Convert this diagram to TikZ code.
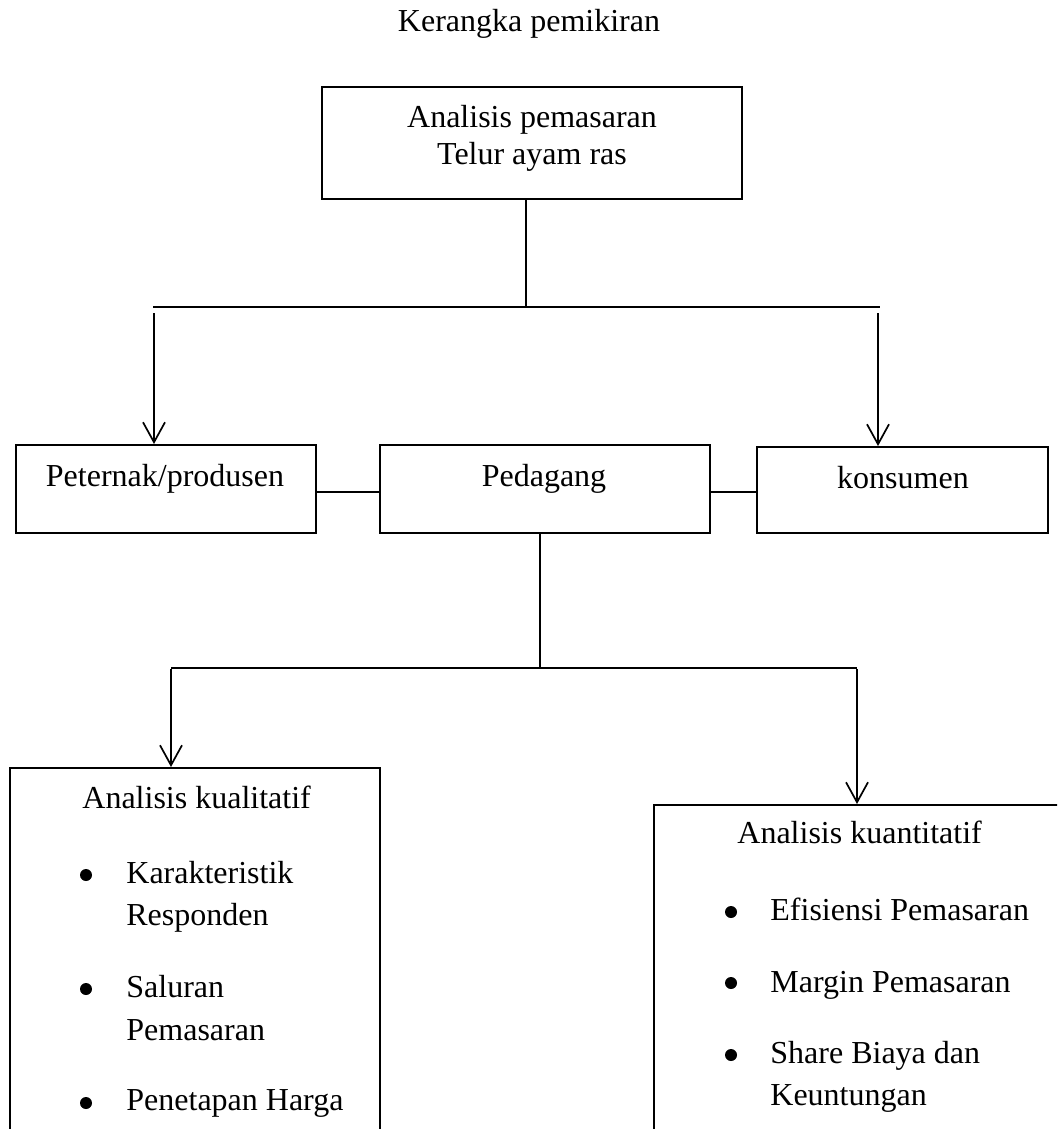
\documentclass[tikz,border=0pt]{standalone}
\usepackage{fontspec}
\setmainfont{Liberation Serif}
\usetikzlibrary{arrows.meta}
\begin{document}
\begin{tikzpicture}[x=0.5pt,y=-0.5pt,
  box/.style={draw, line width=1pt, rectangle, inner sep=0pt},
  conn/.style={draw, line width=0.8pt},
  arr/.style={conn, -{Straight Barb[length=10pt,width=11pt,line width=0.85pt]}},
  txt/.style={font=\fontsize{16}{19}\selectfont, inner sep=0pt, anchor=base},
  ltxt/.style={txt, anchor=base west},
  bul/.style={circle, fill=black, inner sep=0pt, minimum size=6pt},
]
\useasboundingbox (0,0) rectangle (1057,1129);
\begin{scope}
\clip (0,0) rectangle (1057,1129);
% boxes
\node[box, minimum width=210pt, minimum height=56pt] (top) at (532,143) {};
\node[box, minimum width=150pt, minimum height=44pt] (prod) at (166,489) {};
\node[box, minimum width=165pt, minimum height=44pt] (ped) at (545,489) {};
\node[box, minimum width=145.5pt, minimum height=43pt] (kons) at (902.5,490) {};
\node[box, minimum width=185pt, minimum height=196pt] (kual) at (195,964) {};
\node[box, minimum width=223pt, minimum height=177.5pt] (kuan) at (877,982.5) {};
\end{scope}

% texts
\node[txt] (title) at (529,32) {Kerangka pemikiran};
\node[txt] (t1) at (532,127) {Analisis pemasaran};
\node[txt] (t2) at (532,164) {Telur ayam ras};
\node[txt] (tprod) at (165,486) {Peternak/produsen};
\node[txt] (tped) at (544,486) {Pedagang};
\node[txt] (tkons) at (903,488) {konsumen};

\node[ltxt] (kh) at (82,808) {Analisis kualitatif};
\node[bul] (kb1) at (86,875) {};
\node[ltxt] (k1a) at (126,883) {Karakteristik};
\node[ltxt] (k1b) at (126,925) {Responden};
\node[bul] (kb2) at (86,989) {};
\node[ltxt] (k2a) at (126,997) {Saluran};
\node[ltxt] (k2b) at (126,1040) {Pemasaran};
\node[bul] (kb3) at (86,1103) {};
\node[ltxt] (k3) at (126,1110) {Penetapan Harga};

\node[ltxt] (qh) at (737,843) {Analisis kuantitatif};
\node[bul] (qb1) at (731,912) {};
\node[ltxt] (q1) at (770,920) {Efisiensi Pemasaran};
\node[bul] (qb2) at (731,983) {};
\node[ltxt] (q2) at (770,992) {Margin Pemasaran};
\node[bul] (qb3) at (731,1055) {};
\node[ltxt] (q3a) at (770,1063) {Share Biaya dan};
\node[ltxt] (q3b) at (770,1105) {Keuntungan};

% connectors top
\coordinate (j1) at (526,307);
\coordinate (h1l) at (153,307);
\coordinate (h1r) at (880,307);
\coordinate (a1) at (154,313);
\coordinate (a2) at (878,313);
\draw[conn] (top.south -| j1) -- (j1);
\draw[conn] (h1l) -- (h1r);
\draw[arr] (a1) -- (a1 |- prod.north);
\draw[arr] (a2) -- (a2 |- kons.north);

% row connectors
\coordinate (r) at (0,492);
\draw[conn] (prod.east |- r) -- (ped.west |- r);
\draw[conn] (ped.east |- r) -- (kons.west |- r);

% connectors bottom
\coordinate (j2) at (540,668);
\coordinate (h2l) at (171,668);
\coordinate (h2r) at (857,668);
\coordinate (a3) at (171,669);
\coordinate (a4) at (857,669);
\draw[conn] (ped.south -| j2) -- (j2);
\draw[conn] (h2l) -- (h2r);
\draw[arr] (a3) -- (a3 |- kual.north);
\draw[arr] (a4) -- (a4 |- kuan.north);
\end{tikzpicture}
\end{document}
